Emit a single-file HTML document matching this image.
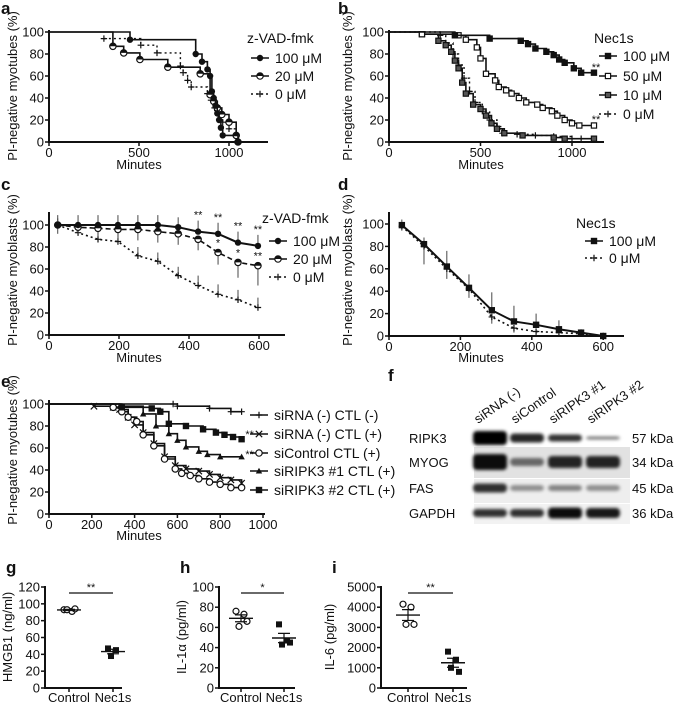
<!DOCTYPE html>
<html><head><meta charset="utf-8"><style>
html,body{margin:0;padding:0;background:#fff;}
svg{display:block;font-family:"Liberation Sans",Arial,sans-serif;}
</style></head><body>
<svg id="fig" width="674" height="703" viewBox="0 0 674 703" xmlns="http://www.w3.org/2000/svg">
<defs>
<filter id="blur" x="-20%" y="-50%" width="140%" height="200%"><feGaussianBlur stdDeviation="1.6"/></filter>
</defs>
</svg>
<script>
// ---- panel a data ----
const aT100=[0,450,815,850,880,895,905,915,925,935,945,955,965,1050];
const aV100=[100,93,80,73,66,60,46,40,33,26,20,13,6,0];
const aT20=[0,355,415,505,660,840,895,915,935,960,1000,1040,1050];
const aV20=[100,87,81,75,68,62,43,37,31,25,18,6,0];
const aT0=[305,510,600,730,745,770,790,880,900,920,940,965,1000,1040];
const aV0=[94,88,81,69,63,56,50,44,38,31,25,18,12,6];
// ---- panel b data ----
const bT100=[0,360,550,720,760,800,860,900,930,960,1010,1050,1120];
const bV100=[100,97,94,92,89,85,82,79,75,72,67,63,63];
const bT50=[0,180,380,420,480,500,530,580,600,640,670,710,750,810,840,890,920,960,1000,1040,1120];
const bV50=[100,98,97,93,86,76,62,56,50,47,44,40,36,34,31,28,24,20,17,15,15];
const bT10=[0,180,270,310,340,360,380,400,420,460,500,530,560,590,630,730,900,960,1120];
const bV10=[100,98,92,88,82,74,67,54,44,34,30,24,17,12,8,6,4,3,3];
const bT0=[0,280,310,350,380,410,440,470,510,550,590,620,700,800,900,1000,1050];
const bV0=[100,97,90,80,70,58,46,36,28,20,14,8,7,6,5,3,3];
// ---- panel c data ----
const cT=[25,83,140,197,254,311,369,426,483,540,597];
const cV100=[100,100,100,100,100,100,98,94,92,84,81];
const cE100=[9,9,9,9,9,9,9,10,10,10,10];
const cV20=[100,98,97,96,96,94,92,87,75,66,63];
const cE20=[8,6,8,10,10,10,10,10,11,14,18];
const cV0=[100,93,87,85,72,67,54,45,37,32,25];
const cE0=[6,5,8,8,8,8,8,9,9,9,9];
// ---- panel d data ----
const dT=[36,98,162,224,288,350,412,476,538,600];
const dV100=[99,82,62,43,23,13,10,6,3,0];
const dE100=[5,6,14,12,16,14,10,8,3,0];
const dV0=[98,80,60,42,17,7,4,3,2,0];
const dE0=[4,16,9,8,6,4,3,3,2,0];
// ---- panel e data ----
const eTa=[0,580,600,750,850,900];
const eVa=[100,100,98,96,93,93];
const eTb=[0,210,300,330,370,400,440,490,540,590,640,700,750,800,850,900];
const eVb=[100,98,97,95,88,81,74,64,52,44,41,39,36,33,31,28];
const eTc=[0,300,340,370,410,440,490,540,590,620,660,700,750,800,850,900];
const eVc=[100,97,93,88,84,72,62,50,41,37,35,32,29,27,24,24];
const eTd=[0,330,440,500,560,600,640,700,740,800,900];
const eVd=[100,98,91,80,73,67,61,57,54,52,52];
const eTe=[0,340,480,520,560,640,720,780,820,860,900];
const eVe=[100,97,96,93,82,80,77,74,72,70,68];
// ---- dot plots ----
const gCtl=[93,91,93,94], gNec=[47,45,38];
const hCtl=[76,73,61,66], hNec=[63,47,43,45];
const iCtl=[4150,4000,3150,3150], iNec=[1800,1400,1000,800];

const svg=document.getElementById('fig');
const NS='http://www.w3.org/2000/svg';
function mk(tag,attrs,parent){const e=document.createElementNS(NS,tag);for(const k in attrs)e.setAttribute(k,attrs[k]);(parent||svg).appendChild(e);return e;}
function txt(s,x,y,size,anchor,parent,extra){const t=mk('text',Object.assign({x:x,y:y,'font-size':size,'text-anchor':anchor||'start',fill:'#111'},extra||{}),parent);t.textContent=s;return t;}
function grp(name){const g=mk('g',{});return g;}

function marker(g,type,x,y,s){
  s=s||3.2;
  if(type==='fc')mk('circle',{cx:x,cy:y,r:s,fill:'#111'},g);
  else if(type==='oc')mk('circle',{cx:x,cy:y,r:s,fill:'#fff',stroke:'#111','stroke-width':1.2},g);
  else if(type==='hc'){mk('circle',{cx:x,cy:y,r:s,fill:'#fff',stroke:'#111','stroke-width':1.2},g);mk('path',{d:`M${x-s},${y} A${s},${s} 0 0 1 ${x+s},${y}Z`,fill:'#111'},g);}
  else if(type==='fs')mk('rect',{x:x-s,y:y-s,width:2*s,height:2*s,fill:'#111'},g);
  else if(type==='os')mk('rect',{x:x-s+0.6,y:y-s+0.6,width:2*s-1.2,height:2*s-1.2,fill:'#fff',stroke:'#111','stroke-width':1.2},g);
  else if(type==='gs')mk('rect',{x:x-s+0.6,y:y-s+0.6,width:2*s-1.2,height:2*s-1.2,fill:'#555',stroke:'#111','stroke-width':1.2},g);
  else if(type==='pl')mk('path',{d:`M${x-s},${y}H${x+s}M${x},${y-s}V${y+s}`,stroke:'#111','stroke-width':1.2},g);
  else if(type==='x')mk('path',{d:`M${x-s},${y-s}L${x+s},${y+s}M${x-s},${y+s}L${x+s},${y-s}`,stroke:'#111','stroke-width':1.2},g);
  else if(type==='tr')mk('path',{d:`M${x},${y-s}L${x+s},${y+s*0.8}L${x-s},${y+s*0.8}Z`,fill:'#111'},g);
}
function stepSeries(name,T,V,X,Y,mtype,dash,skipFirst){
  const g=grp(name);
  let d=`M${X(T[0])},${Y(V[0])}`;
  for(let i=1;i<T.length;i++)d+=`H${X(T[i])}V${Y(V[i])}`;
  mk('path',{d:d,fill:'none',stroke:'#111','stroke-width':dash?1.4:1.6,'stroke-dasharray':dash?'2,3':'none'},g);
  for(let i=skipFirst?1:0;i<T.length;i++)marker(g,mtype,X(T[i]),Y(V[i]));
  return g;
}
function lineSeries(name,T,V,E,X,Y,mtype,dash,errDir){
  const g=grp(name);
  for(let i=0;i<T.length;i++){const x=X(T[i]);mk('line',{x1:x,x2:x,y1:Y(V[i]),y2:Y(V[i]+errDir*E[i]),stroke:'#333','stroke-width':0.9},g);}
  mk('polyline',{points:T.map((t,i)=>X(t)+','+Y(V[i])).join(' '),fill:'none',stroke:'#111','stroke-width':dash?1.6:2,'stroke-dasharray':dash||'none'},g);
  for(let i=0;i<T.length;i++)marker(g,mtype,X(T[i]),Y(V[i]));
}
function axes(name,x0,x1,yTop,yBot,Y,yTicks,yLab,X,xTicks,xLab,tickY){
  const g=grp(name);
  mk('line',{x1:x0,x2:x0,y1:yTop,y2:yBot+1,stroke:'#111','stroke-width':2},g);
  mk('line',{x1:x0-1,x2:x1,y1:yBot,y2:yBot,stroke:'#111','stroke-width':2},g);
  yTicks.forEach((v,i)=>{const y=Y(v);mk('line',{x1:x0-4,x2:x0,y1:y,y2:y,stroke:'#111','stroke-width':1.5},g);txt(yLab[i],x0-5,y+4.5,13,'end',g);});
  if(X)xTicks.forEach((v,i)=>{const x=X(v);mk('line',{x1:x,x2:x,y1:yBot,y2:yBot+4,stroke:'#111','stroke-width':1.5},g);txt(xLab[i],x,yBot+(tickY||16),13,'middle',g);});
}
function ytitle(s,x,y,name){const t=txt(s,x,y,13,'middle',null,{transform:`rotate(-90 ${x} ${y})`});}
function letter(s,x,y){const t=txt(s,x,y,17,'start',null,{'font-weight':'bold'});}
function legendEntry(name,x,y,mtype,dash,label){
  const g=grp(name);
  mk('line',{x1:x-9,x2:x+9,y1:y,y2:y,stroke:'#111','stroke-width':1.6,'stroke-dasharray':dash?'2,3':'none'},g);
  marker(g,mtype,x,y);
  txt(label,x+15,y+5,14,'start',g);
}
const Y5=[0,20,40,60,80,100],Y5L=['0','20','40','60','80','100'];

// ===== Panel a =====
{const X=t=>49+t*0.18,Y=v=>142-v*1.1;
letter('a',1,14);
axes('axes-a',49,268,30,142,Y,Y5,Y5L,X,[0,500,1000],['0','500','1000'],15);
txt('Minutes',139,169,13,'middle');
ytitle('PI-negative myotubes (%)',17,86,'y-axis-title-a');
stepSeries('series-a-0uM',aT0,aV0,X,Y,'pl',true);
stepSeries('series-a-20uM',aT20,aV20,X,Y,'hc',false,true);
stepSeries('series-a-100uM',aT100,aV100,X,Y,'fc',false,true);
txt('z-VAD-fmk',247,43,14,'start');
legendEntry('legend-a-100',260,58,'fc',false,'100 μM');
legendEntry('legend-a-20',260,76,'hc',false,'  20 μM');
legendEntry('legend-a-0',260,94,'pl',true,'    0 μM');}

// ===== Panel b =====
{const X=t=>389+t*0.183,Y=v=>142-v*1.1;
letter('b',338,14);
axes('axes-b',389,604,30,142,Y,Y5,Y5L,X,[0,500,1000],['0','500','1000'],15);
txt('Minutes',481,169,13,'middle');
ytitle('PI-negative myotubes (%)',352,86,'y-axis-title-b');
stepSeries('series-b-0uM',bT0,bV0,X,Y,'pl',true,true);
stepSeries('series-b-10uM',bT10,bV10,X,Y,'gs',false,true);
stepSeries('series-b-50uM',bT50,bV50,X,Y,'os',false,true);
stepSeries('series-b-100uM',bT100,bV100,X,Y,'fs',false,true);
txt('**',596,71,11,'middle');txt('**',596,123,11,'middle');
txt('Nec1s',594,43,14,'start');
legendEntry('legend-b-100',608,56,'fs',false,'100 μM');
legendEntry('legend-b-50',608,76,'os',false,'  50 μM');
legendEntry('legend-b-10',608,95,'gs',false,'  10 μM');
legendEntry('legend-b-0',608,114,'pl',true,'    0 μM');}

// ===== Panel c =====
{const X=t=>49+t*0.35,Y=v=>335-v*1.1;
letter('c',1,190);
axes('axes-c',49,285,212,335,Y,Y5,Y5L,X,[0,200,400,600],['0','200','400','600'],15);
txt('Minutes',139,362,13,'middle');
ytitle('PI-negative myoblasts (%)',17,270,'y-axis-title-c');
lineSeries('series-c-0uM',cT,cV0,cE0,X,Y,'pl','2,3',1);
lineSeries('series-c-20uM',cT,cV20,cE20,X,Y,'hc','5,3',-1);
lineSeries('series-c-100uM',cT,cV100,cE100,X,Y,'fc',null,1);
[[426,94],[483,92],[540,84],[597,81]].forEach(p=>txt('**',X(p[0]),Y(p[1])-13,11,'middle'));
[[483,75,'*'],[540,66,'*'],[597,63,'**']].forEach(p=>txt(p[2],X(p[0]),Y(p[1])-6,11,'middle'));
txt('z-VAD-fmk',262,223,14,'start');
legendEntry('legend-c-100',278,241,'fc',false,'100 μM');
legendEntry('legend-c-20',278,259,'hc',false,'  20 μM');
legendEntry('legend-c-0',278,277,'pl',true,'    0 μM');}

// ===== Panel d =====
{const X=t=>389+t*0.357,Y=v=>336-v*1.12;
letter('d',338,190);
axes('axes-d',389,624,212,336,Y,Y5,Y5L,X,[0,200,400,600],['0','200','400','600'],15);
txt('Minutes',481,362,13,'middle');
ytitle('PI-negative myoblasts (%)',352,270,'y-axis-title-d');
lineSeries('series-d-0uM',dT,dV0,dE0,X,Y,'pl','2,3',-1);
lineSeries('series-d-100uM',dT,dV100,dE100,X,Y,'fs',null,1);
txt('Nec1s',576,228,14,'start');
legendEntry('legend-d-100',594,241,'fs',false,'100 μM');
legendEntry('legend-d-0',594,258,'pl',true,'    0 μM');}

// ===== Panel e =====
{const X=t=>49+t*0.214,Y=v=>514-v*1.1;
letter('e',1,387);
axes('axes-e',49,265,400,514,Y,Y5,Y5L,X,[0,200,400,600,800,1000],['0','200','400','600','800','1000'],15);
txt('Minutes',139,540,13,'middle');
ytitle('PI-negative myotubes (%)',17,450,'y-axis-title-e');
stepSeries('series-e-sirna-neg-ctl-pos',eTb,eVb,X,Y,'x',false,true);
stepSeries('series-e-sicontrol',eTc,eVc,X,Y,'oc',false,true);
stepSeries('series-e-siripk3-1',eTd,eVd,X,Y,'tr',false,true);
stepSeries('series-e-siripk3-2',eTe,eVe,X,Y,'fs',false,true);
stepSeries('series-e-sirna-neg-ctl-neg',eTa,eVa,X,Y,'pl',false,true);
txt('**',X(900)+8,Y(70)+1,11,'middle');txt('**',X(900)+8,Y(52)+1,11,'middle');
legendEntry('legend-e-1',259,415,'pl',false,'siRNA (-) CTL (-)');
legendEntry('legend-e-2',259,434,'x',false,'siRNA (-) CTL (+)');
legendEntry('legend-e-3',259,453,'oc',false,'siControl CTL (+)');
legendEntry('legend-e-4',259,471,'tr',false,'siRIPK3 #1 CTL (+)');
legendEntry('legend-e-5',259,490,'fs',false,'siRIPK3 #2 CTL (+)');}

// ===== Panel f (western blot) =====
{letter('f',388,381);
const g=grp('western-blot');
const lanes=[490,527,565,603];
const lab=['siRNA (-)','siControl','siRIPK3 #1','siRIPK3 #2'];
lanes.forEach((x,i)=>txt(lab[i],x-12,424,13,'start',g,{transform:`rotate(-35 ${x-12} 424)`}));
mk('rect',{x:474,y:447,width:156,height:31,fill:'#e2e2e2'},g);
mk('rect',{x:474,y:479,width:156,height:24,fill:'#eeeeee'},g);
mk('rect',{x:474,y:504,width:156,height:20,fill:'#f2f2f2'},g);
const bands=[
 [438,[[14,1],[9,0.85],[7,0.8],[3,0.55]]],
 [462,[[16,0.95],[8,0.55],[12,0.85],[12,0.85]]],
 [488,[[9,0.8],[6,0.4],[6,0.45],[6,0.4]]],
 [513,[[8,0.8],[8,0.8],[11,0.95],[10,0.9]]]];
const bf=mk('g',{filter:'url(#blur)'},g);
bands.forEach(b=>b[1].forEach((p,i)=>mk('rect',{x:lanes[i]-17,y:b[0]-p[0]/2,width:34,height:p[0],rx:4,fill:'#000','fill-opacity':p[1]},bf)));
const rows=['RIPK3','MYOG','FAS','GAPDH'],kda=['57 kDa','34 kDa','45 kDa','36 kDa'];
rows.forEach((r,i)=>{txt(r,409,bands[i][0]+5,13,'start',g);txt(kda[i],632,bands[i][0]+5,13,'start',g);});}

// ===== Dot plots =====
function dotPlot(name,ax,xc,xn,xend,max,step,ctl,nec,sig,title,lx,ltr,lxl){
  const Y=v=>688-v/max*101;
  const ticks=[],labs=[];for(let v=0;v<=max;v+=step){ticks.push(v);labs.push(String(v));}
  letter(ltr,lxl,573);
  axes('axes-'+name,ax,xend,586,688,Y,ticks,labs,null);
  const g=grp('data-'+name);
  [[xc,0],[xn,0]].forEach(p=>{mk('line',{x1:p[0],x2:p[0],y1:688,y2:692,stroke:'#111','stroke-width':1.5},g);});
  txt('Control',xc,702,13,'middle',g);txt('Nec1s',xn,702,13,'middle',g);
  function grpStats(arr,x,mt){
    const m=arr.reduce((a,b)=>a+b,0)/arr.length;
    const sd=Math.sqrt(arr.reduce((a,b)=>a+(b-m)*(b-m),0)/(arr.length-1));const se=sd/Math.sqrt(arr.length);
    const off=[-5,3,-2,6];
    arr.forEach((v,i)=>marker(g,mt,x+off[i%4],Y(v),3));
    mk('line',{x1:x-12,x2:x+12,y1:Y(m),y2:Y(m),stroke:'#111','stroke-width':1.4},g);
    mk('path',{d:`M${x-6},${Y(m+se)}H${x+6}M${x},${Y(m+se)}V${Y(m-se)}M${x-6},${Y(m-se)}H${x+6}`,stroke:'#111','stroke-width':1.2,fill:'none'},g);
  }
  grpStats(ctl,xc,'oc');grpStats(nec,xn,'fs');
  mk('line',{x1:xc,x2:xn,y1:593,y2:593,stroke:'#111','stroke-width':1.2},g);
  txt(sig,(xc+xn)/2,591,11,'middle',g);
  ytitle(title,lx,637,'y-axis-title-'+name);
}
dotPlot('g',45,69,113,122,120,20,gCtl,gNec,'**','HMGB1 (ng/ml)',12,'g',6);
dotPlot('h',219,241,284,295,100,20,hCtl,hNec,'*','IL-1α (pg/ml)',186,'h',180);
dotPlot('i',381,408,453,467,5000,1000,iCtl,iNec,'**','IL-6 (pg/ml)',334,'i',332);
</script>
</body></html>
